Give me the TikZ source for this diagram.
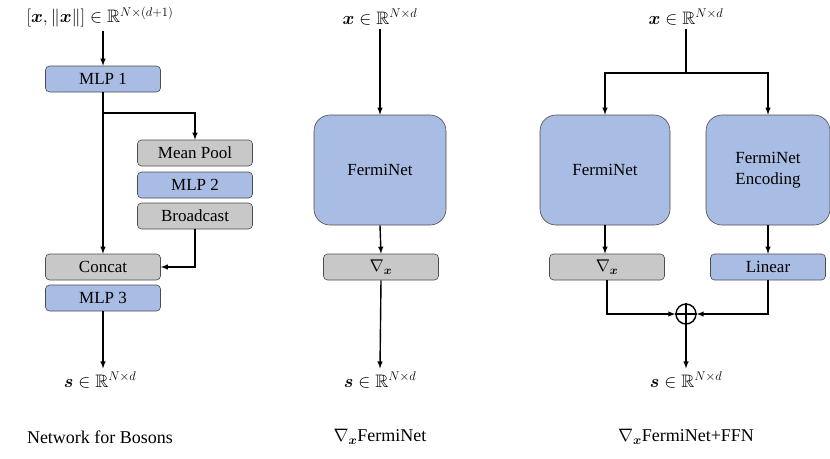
\documentclass[tikz,border=0pt]{standalone}
\usepackage{amsmath,amssymb,bm}
\usepackage{fix-cm}
\usepackage{fontspec}
\setmainfont{Liberation Serif}
\usetikzlibrary{positioning}
\definecolor{boxblue}{RGB}{169,188,227}
\definecolor{boxgray}{RGB}{200,200,200}
\tikzset{
  blk/.style={draw=black!70, line width=0.6pt, rounded corners=4pt, minimum width=115pt, minimum height=26pt, inner sep=0pt, font=\fontsize{17}{20}\selectfont},
  bblk/.style={blk, fill=boxblue},
  gblk/.style={blk, fill=boxgray},
  big/.style={draw=black!70, line width=0.6pt, rounded corners=16pt, fill=boxblue, minimum height=110pt, inner sep=0pt, align=center, font=\fontsize{17}{21}\selectfont},
  lbl/.style={font=\fontsize{18}{21}\selectfont},
  arr/.style={-latex, line width=1.4pt},
  ln/.style={line width=1.4pt}
}
\begin{document}
\begin{tikzpicture}[x=1pt,y=-1pt]
\useasboundingbox (0,0) rectangle (830,458);
% bosons
\node[lbl] (inA) at (100,17) {$[\bm{x},\|\bm{x}\|]\in\mathbb{R}^{N\times(d+1)}$};
\node[bblk] (mlp1) at (103,79) {MLP 1};
\node[gblk] (pool) at (195,153) {Mean Pool};
\node[bblk] (mlp2) at (195,185) {MLP 2};
\node[gblk] (bcast) at (195,216) {Broadcast};
\node[gblk] (concat) at (103,267) {Concat};
\node[bblk] (mlp3) at (103,298) {MLP 3};
\node[lbl] (outA) at (100,380) {$\bm{s}\in\mathbb{R}^{N\times d}$};
\node[lbl] at (100,437) {Network for Bosons};
\coordinate (splitA) at (103,113);
\draw[arr] (inA.south -| mlp1.north) -- (mlp1.north);
\draw[arr] (mlp1.south) -- (concat.north);
\draw[arr] (splitA) -| (pool.north);
\draw[arr] (bcast.south) |- (concat.east);
\draw[arr] (mlp3.south) -- (outA.north -| mlp3.south);
% FermiNet
\node[lbl] (inB) at (380,17) {$\bm{x}\in\mathbb{R}^{N\times d}$};
\node[big, minimum width=132pt] (fnB) at (380,170) {FermiNet};
\node[gblk] (gradB) at (381,267) {$\nabla_{\bm{x}}$};
\node[lbl] (outB) at (380,380) {$\bm{s}\in\mathbb{R}^{N\times d}$};
\node[lbl] at (380,437) {$\nabla_{\bm{x}}$FermiNet};
\draw[arr] (inB.south) -- (fnB.north);
\draw[arr] (fnB.south) -- (gradB.north);
\draw[arr] (gradB.south) -- (outB.north);
% FermiNet + FFN
\node[lbl] (inC) at (686,17) {$\bm{x}\in\mathbb{R}^{N\times d}$};
\node[big, minimum width=130pt] (fnC) at (605,170) {FermiNet};
\node[big, minimum width=124pt] (enc) at (768,170) {FermiNet\\Encoding};
\node[gblk] (gradC) at (607,267) {$\nabla_{\bm{x}}$};
\node[bblk] (lin) at (768,267) {Linear};
\node[circle, draw, line width=1.4pt, inner sep=0pt, minimum size=20pt] (plus) at (686,314) {};
\draw[line width=1.4pt] (plus.north) -- (plus.south) (plus.west) -- (plus.east);
\node[lbl] (outC) at (686,380) {$\bm{s}\in\mathbb{R}^{N\times d}$};
\node[lbl] at (686,437) {$\nabla_{\bm{x}}$FermiNet+FFN};
\coordinate (splitC) at (686,73);
\draw[ln] (inC.south) -- (splitC);
\draw[arr] (splitC) -| (fnC.north);
\draw[arr] (splitC) -| (enc.north);
\draw[arr] (fnC.south) -- (fnC.south |- gradC.north);
\draw[arr] (enc.south) -- (lin.north);
\draw[arr] (gradC.south) |- (plus.west);
\draw[arr] (lin.south) |- (plus.east);
\draw[arr] (plus.south) -- (outC.north);
\end{tikzpicture}
\end{document}
